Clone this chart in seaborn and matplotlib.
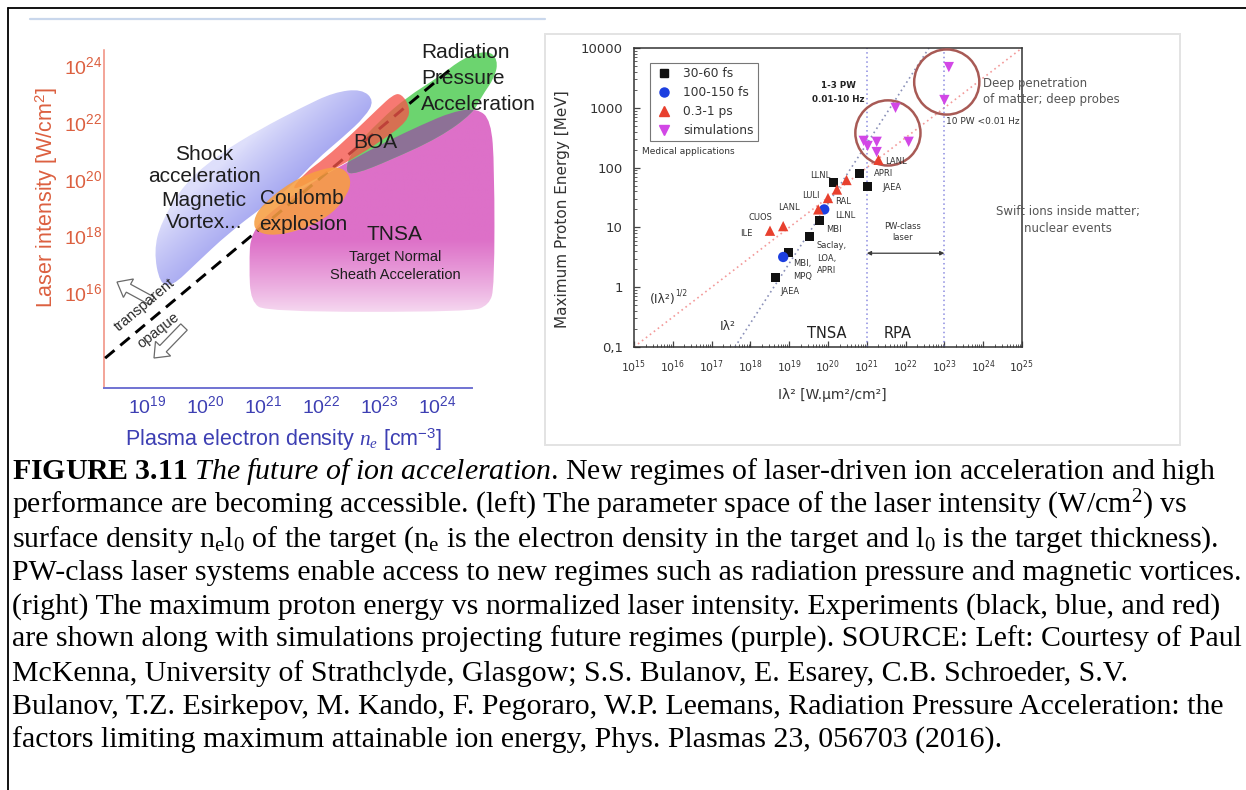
import numpy as np
import matplotlib
matplotlib.use("Agg")
import matplotlib.pyplot as plt
import seaborn as sns
from matplotlib.path import Path
from matplotlib.patches import PathPatch, FancyArrow, Rectangle
from matplotlib.lines import Line2D
from matplotlib.transforms import IdentityTransform
from matplotlib.ticker import FixedLocator, NullLocator, LogLocator, NullFormatter

# ---------------- left panel: regimes in (n_e, I) space, outlines as log10 values ----------------
shock_log_ne = [19.22, 19.12, 19.24, 19.65, 20.27, 20.93, 21.68, 22.22, 22.70, 22.92,
                22.76, 22.39, 21.91, 21.49, 21.00, 20.40, 19.85, 19.43]
shock_log_I = [16.31, 17.45, 18.45, 19.85, 20.90, 21.72, 22.52, 23.04, 23.16, 22.75,
               22.18, 21.48, 20.65, 19.72, 19.01, 18.07, 17.02, 16.20]

tnsa_log_ne = [20.79, 21.31, 21.91, 22.52, 23.12, 23.73, 24.27, 24.69, 24.93, 24.99,
               24.99, 24.90, 24.57, 21.06, 20.79, 20.76]
tnsa_log_I = [18.19, 19.13, 19.95, 20.65, 21.30, 21.89, 22.36, 22.48, 22.06, 20.42,
              16.20, 15.55, 15.31, 15.31, 15.67, 16.90]

rpa_log_ne = [22.41, 22.53, 23.02, 23.48, 24.03, 24.45, 24.88, 25.05, 25.00, 24.76,
              24.62, 24.05, 23.19, 22.59]
rpa_log_I = [20.23, 21.00, 22.06, 22.87, 23.58, 24.25, 24.53, 24.18, 23.58, 22.87,
             22.31, 21.46, 20.65, 20.16]

boa_log_ne = [23.38, 23.53, 23.50, 23.02, 22.55, 22.03, 21.45, 21.70, 22.07, 22.52, 23.00, 23.24]
boa_log_I = [23.00, 22.55, 22.02, 21.30, 20.70, 20.12, 19.50, 20.17, 20.72, 21.55, 22.50, 22.95]

coulomb_log_ne = [20.83, 20.98, 21.47, 22.03, 22.38, 22.53, 22.45, 22.21, 21.76, 21.21, 20.88]
coulomb_log_I = [18.54, 19.07, 19.88, 20.37, 20.41, 19.95, 19.42, 18.79, 18.26, 17.98, 18.12]

# transparent / opaque boundary
boundary_ne = [1.9e18, 1.9e24]
boundary_I = [4.8e13, 8.5e23]

left_xticks = [1e19, 1e20, 1e21, 1e22, 1e23, 1e24]
left_xticklabels = [r"$\mathdefault{10^{19}}$", r"$\mathdefault{10^{20}}$", r"$\mathdefault{10^{21}}$",
                    r"$\mathdefault{10^{22}}$", r"$\mathdefault{10^{23}}$", r"$\mathdefault{10^{24}}$"]
left_yticks = [1e16, 1e18, 1e20, 1e22, 1e24]
left_yticklabels = [r"$\mathdefault{10^{16}}$", r"$\mathdefault{10^{18}}$", r"$\mathdefault{10^{20}}$",
                    r"$\mathdefault{10^{22}}$", r"$\mathdefault{10^{24}}$"]

# ---------------- right panel: max proton energy vs I*lambda^2 ----------------
fs30_x = [4.4e18, 9.5e18, 3.3e19, 6.0e19, 1.4e20, 6.5e20, 1.05e21]
fs30_y = [1.45, 3.8, 7.0, 13.0, 57.0, 80.0, 48.0]
fs100_x = [7.0e18, 8.0e19]
fs100_y = [3.2, 20.0]
ps_x = [3.2e18, 7.0e18, 5.6e19, 1.0e20, 1.7e20, 3.0e20, 2.0e21]
ps_y = [8.8, 10.5, 20.0, 31.0, 43.0, 62.0, 135.0]
sim_x = [8.3e20, 1.05e21, 1.8e21, 1.8e21, 1.2e22, 5.5e21, 1.0e23, 1.3e23]
sim_y = [280.0, 230.0, 270.0, 182.0, 270.0, 1000.0, 1350.0, 4800.0]
ring_x = [3.5e21, 1.15e23]
ring_y = [380.0, 2700.0]

scaling_sqrt_x = [1e15, 1e25]
scaling_sqrt_y = [0.1, 1e4]
scaling_lin_x = [4e17, 4e22]
scaling_lin_y = [0.1, 1e4]
pw_bounds = [1e21, 1e23]
pw_arrow_y = 3.7

right_xticks = [10.0 ** k for k in range(15, 26)]
right_xticklabels = [r"$\mathdefault{10^{%d}}$" % k for k in range(15, 26)]
right_yticks = [0.1, 1, 10, 100, 1000, 10000]
right_yticklabels = ["0,1", "1", "10", "100", "1000", "10000"]

# ---------------- figure setup ----------------
W, H, DPI = 1246, 790, 100
sns.set_theme(style="white")
plt.rcParams["font.family"] = ["Liberation Sans", "DejaVu Sans"]
plt.rcParams.update({
    "mathtext.fontset": "custom",
    "mathtext.rm": "Liberation Serif",
    "mathtext.it": "Liberation Serif:italic",
    "mathtext.bf": "Liberation Serif:bold",
    "mathtext.sf": "Liberation Sans",
})
fig = plt.figure(figsize=(W / DPI, H / DPI), dpi=DPI)
fig.patch.set_facecolor("white")


def fxy(px, py):
    return px / W, 1 - py / H


def label(px, py, s, **kw):
    x, y = fxy(px, py)
    return fig.text(x, y, s, **kw)


def smooth_region(log_x, log_y, **kw):
    """Closed quadratic B-spline through the outline, built in log space."""
    p = np.column_stack([log_x, log_y]).astype(float)
    mids = (p + np.roll(p, -1, axis=0)) / 2
    verts = [mids[-1]]
    codes = [Path.MOVETO]
    for i in range(len(p)):
        verts += [p[i], mids[i]]
        codes += [Path.CURVE3, Path.CURVE3]
    verts.append(mids[-1])
    codes.append(Path.CLOSEPOLY)
    verts = 10.0 ** np.array(verts)
    return PathPatch(Path(verts, codes), **kw)


def gradient_in(ax, patch, rgba, zorder):
    im = ax.imshow(rgba, extent=[0, 1, 0, 1], transform=ax.transAxes, origin="lower",
                   aspect="auto", interpolation="bilinear", zorder=zorder)
    im.set_clip_path(patch)
    return im


# frame lines of the page
fig.add_artist(Line2D([8 / W, 1], [1 - 8 / H, 1 - 8 / H], color="black", lw=1.3))
fig.add_artist(Line2D([8 / W, 8 / W], [0, 1 - 8 / H], color="black", lw=1.3))
fig.add_artist(Line2D([30 / W, 545 / W], [1 - 19 / H, 1 - 19 / H], color="#c9d7ec", lw=1.6))
fig.add_artist(Rectangle(fxy(545, 445), 635 / W, 411 / H, fill=False, ec="#e3e3e3", lw=1.4,
                         transform=fig.transFigure))

# ================= left panel =================
AXW, AXH = 398, 340
ax1 = fig.add_axes([104 / W, 1 - 388 / H, AXW / W, AXH / H])
ax1.set_xscale("log")
ax1.set_yscale("log")
ax1.set_xlim(10 ** 18.26, 10 ** 25.12)
ax1.set_ylim(10 ** 12.63, 10 ** 24.6)
ax1.set_autoscale_on(False)
ax1.set_facecolor("none")

U, V = np.meshgrid(np.linspace(0, 1, 300), np.linspace(0, 1, 300))
X, Y = U * AXW, V * AXH

# shock / magnetic vortex region: pale towards upper-left, deeper towards the boundary
shock = smooth_region(shock_log_ne, shock_log_I, fc="none", ec="none", zorder=1)
ax1.add_patch(shock)
s = (X - 161) * 0.674 - (Y - 188) * 0.738
t = np.clip((s + 55) / 100, 0, 1)[..., None] ** 0.85
light, deep = np.array([222, 223, 251]) / 255, np.array([140, 142, 236]) / 255
rgba = np.concatenate([light + t * (deep - light), np.ones_like(t)], axis=2)
gradient_in(ax1, shock, rgba, 1)

# TNSA region fading out at low intensity
tnsa = smooth_region(tnsa_log_ne, tnsa_log_I, fc="none", ec="none", zorder=2)
ax1.add_patch(tnsa)
t = np.clip((Y - 58) / 90, 0, 1)[..., None] ** 0.8
mag = np.array([221, 112, 200]) / 255
rgba = np.concatenate([1 - t * (1 - mag), np.ones_like(t)], axis=2)
gradient_in(ax1, tnsa, rgba, 2)

# radiation pressure region and its overlap with TNSA
ax1.add_patch(smooth_region(rpa_log_ne, rpa_log_I, fc="#6cd46f", ec="none", zorder=3))
overlap = smooth_region(rpa_log_ne, rpa_log_I, fc="#8d7196", ec="none", zorder=3.5)
ax1.add_patch(overlap)
overlap.set_clip_path(tnsa)

sns.lineplot(x=boundary_ne, y=boundary_I, ax=ax1, color="black", lw=2.1,
             linestyle=(0, (4.2, 2.6)), zorder=4)

ax1.add_patch(smooth_region(boa_log_ne, boa_log_I, fc=(0.96, 0.33, 0.29), ec="none",
                            alpha=0.78, zorder=5))
ax1.add_patch(smooth_region(coulomb_log_ne, coulomb_log_I, fc=(0.97, 0.62, 0.26), ec="none",
                            alpha=0.88, zorder=6))

for side in ("top", "right"):
    ax1.spines[side].set_visible(False)
ax1.spines["left"].set_color("#f08c7c")
ax1.spines["left"].set_linewidth(1.1)
ax1.spines["left"].set_bounds(10 ** 12.63, 10 ** 24.53)
ax1.spines["bottom"].set_color("#7072d2")
ax1.spines["bottom"].set_linewidth(1.4)
ax1.spines["bottom"].set_bounds(10 ** 18.26, 10 ** 24.6)
ax1.xaxis.set_major_locator(FixedLocator(left_xticks))
ax1.xaxis.set_minor_locator(NullLocator())
ax1.set_xticklabels(left_xticklabels)
ax1.yaxis.set_major_locator(FixedLocator(left_yticks))
ax1.yaxis.set_minor_locator(NullLocator())
ax1.set_yticklabels(left_yticklabels)
ax1.tick_params(axis="x", length=0, pad=5, labelsize=14, labelcolor="#3d3fb3")
ax1.tick_params(axis="y", length=0, pad=1, labelsize=14, labelcolor="#dc6040")
ax1.grid(False)

label(47, 197, r"Laser intensity [W/cm$^{\mathdefault{2}}$]", rotation=90, ha="center",
      va="center", fontsize=15.5, color="#dc6040")
label(284, 440, r"Plasma electron density $n_e$ [cm$^{\mathdefault{-3}}$]", ha="center",
      va="center", fontsize=15.5, color="#3d3fb3")

txt = dict(fontsize=15, color="#1e1e1e", va="center", zorder=10)
for py, line in zip([53, 79, 104], ["Radiation", "Pressure", "Acceleration"]):
    label(421, py, line, ha="left", **txt)
for py, line in zip([155, 177, 200, 222], ["Shock", "acceleration", "Magnetic", "Vortex..."]):
    label(204, py, line, ha="center", **txt)
label(302, 198, "Coulomb", ha="center", **txt)
label(303, 224, "explosion", ha="center", **txt)
label(375, 142, "BOA", ha="center", **txt)
label(394, 235, "TNSA", ha="center", **txt)
label(395, 257, "Target Normal", ha="center", va="center", fontsize=10.5, color="#1e1e1e")
label(395, 275, "Sheath Acceleration", ha="center", va="center", fontsize=10.5, color="#1e1e1e")
label(145, 305, "transparent", rotation=40, ha="center", va="center", fontsize=10.5,
      color="#2a2a2a", rotation_mode="anchor")
label(158, 330, "opaque", rotation=38, ha="center", va="center", fontsize=10.5,
      color="#2a2a2a", rotation_mode="anchor")

arrow_kw = dict(width=9, head_width=21, head_length=13, fc="white", ec="#6a6a6a", lw=0.9,
                length_includes_head=True, transform=IdentityTransform())
fig.add_artist(FancyArrow(152, H - 301, -35, 19, **arrow_kw))
fig.add_artist(FancyArrow(184, H - 327, -30, -31, **arrow_kw))

# ================= right panel =================
ax2 = fig.add_axes([634 / W, 1 - 347 / H, 388 / W, 299 / H])
ax2.set_xscale("log")
ax2.set_yscale("log")
ax2.set_xlim(1e15, 1e25)
ax2.set_ylim(0.1, 1e4)
ax2.set_facecolor("none")

sns.lineplot(x=scaling_sqrt_x, y=scaling_sqrt_y, ax=ax2, color="#f39a9a", lw=1.2,
             linestyle=(0, (1, 2)), zorder=2)
sns.lineplot(x=scaling_lin_x, y=scaling_lin_y, ax=ax2, color="#8a90b8", lw=1.2,
             linestyle=(0, (1, 2)), zorder=2)
for xb in pw_bounds:
    ax2.axvline(xb, color="#8c8ce0", lw=1.1, linestyle=(0, (1, 2)), zorder=2)
ax2.annotate("", xy=(pw_bounds[1], pw_arrow_y), xytext=(pw_bounds[0], pw_arrow_y),
             arrowprops=dict(arrowstyle="<|-|>", color="#3a3a3a", lw=0.9,
                             mutation_scale=6, shrinkA=0, shrinkB=0))

ax2.scatter(ring_x, ring_y, s=2200, facecolors="none", edgecolors="#a85a55", linewidths=1.8,
            zorder=3)

sns.scatterplot(x=fs30_x, y=fs30_y, ax=ax2, marker="s", color="#111111", s=40,
                edgecolor="none", label="30-60 fs", zorder=5, legend=False)
sns.scatterplot(x=fs100_x, y=fs100_y, ax=ax2, marker="o", color="#1c3fe0", s=55,
                edgecolor="none", label="100-150 fs", zorder=5, legend=False)
sns.scatterplot(x=ps_x, y=ps_y, ax=ax2, marker="^", color="#e8402e", s=55,
                edgecolor="none", label="0.3-1 ps", zorder=5, legend=False)
sns.scatterplot(x=sim_x, y=sim_y, ax=ax2, marker="v", color="#d247e6", s=55,
                edgecolor="none", label="simulations", zorder=5, legend=False)

handles = [Line2D([], [], ls="none", marker="s", color="#111111", ms=6),
           Line2D([], [], ls="none", marker="o", color="#1c3fe0", ms=6.5),
           Line2D([], [], ls="none", marker="^", color="#e8402e", ms=7),
           Line2D([], [], ls="none", marker="v", color="#d247e6", ms=7)]
leg = ax2.legend(handles, ["30-60 fs", "100-150 fs", "0.3-1 ps", "simulations"],
                 loc="upper left", bbox_to_anchor=((650 - 634) / 388, 1 - (63 - 48) / 299),
                 borderaxespad=0, frameon=True, fancybox=False, edgecolor="#555555",
                 prop={"family": "DejaVu Sans", "size": 8.8},
                 handlelength=1.6, handletextpad=0.75, labelspacing=0.48, borderpad=0.35)
leg.get_frame().set_linewidth(0.8)
for t_ in leg.get_texts():
    t_.set_color("#333333")

for side in ax2.spines.values():
    side.set_color("#333333")
    side.set_linewidth(1.1)
ax2.xaxis.set_major_locator(FixedLocator(right_xticks))
ax2.set_xticklabels(right_xticklabels)
ax2.xaxis.set_minor_locator(LogLocator(base=10, subs=np.arange(2, 10), numticks=100))
ax2.xaxis.set_minor_formatter(NullFormatter())
ax2.yaxis.set_major_locator(FixedLocator(right_yticks))
ax2.set_yticklabels(right_yticklabels)
ax2.yaxis.set_minor_locator(LogLocator(base=10, subs=np.arange(2, 10), numticks=100))
ax2.yaxis.set_minor_formatter(NullFormatter())
ax2.tick_params(which="both", direction="in", bottom=True, left=True, top=False, right=False,
                color="#444444")
ax2.tick_params(which="major", length=4, width=0.9)
ax2.tick_params(which="minor", length=2, width=0.6)
ax2.tick_params(axis="x", labelsize=7.8, pad=8, labelcolor="#333333")
ax2.tick_params(axis="y", labelsize=9.5, pad=8, labelcolor="#333333")
for lab in ax2.get_xticklabels() + ax2.get_yticklabels():
    lab.set_family("DejaVu Sans")
ax2.grid(False)

dv = dict(family="DejaVu Sans")
label(563, 209, "Maximum Proton Energy [MeV]", rotation=90, ha="center", va="center",
      fontsize=11, color="#333333", **dv)
label(832, 395, "Iλ² [W.µm²/cm²]", ha="center", va="center", fontsize=10, color="#333333", **dv)

label(838, 85, "1-3 PW", ha="center", va="center", fontsize=6.3, weight="bold", color="#222222", **dv)
label(838, 99, "0.01-10 Hz", ha="center", va="center", fontsize=6.3, weight="bold",
      color="#222222", **dv)
label(642, 151, "Medical applications", ha="left", va="center", fontsize=6.5, color="#333333", **dv)
label(946, 121, "10 PW <0.01 Hz", ha="left", va="center", fontsize=6.5, color="#333333", **dv)
label(983, 91, "Deep penetration\nof matter; deep probes", ha="left", va="center", fontsize=8.5,
      linespacing=1.3, color="#555555", **dv)
label(1068, 220, "Swift ions inside matter;\nnuclear events", ha="center", va="center",
      fontsize=8.5, linespacing=1.35, color="#555555", **dv)
label(827, 333, "TNSA", ha="center", va="center", fontsize=10.5, color="#222222", **dv)
label(898, 333, "RPA", ha="center", va="center", fontsize=10.5, color="#222222", **dv)
label(903, 232, "PW-class\nlaser", ha="center", va="center", fontsize=6, linespacing=1.3,
      color="#333333", **dv)
label(728, 326, "Iλ²", ha="center", va="center", fontsize=9, color="#333333", **dv)
label(663, 300, "(Iλ²)", ha="center", va="center", fontsize=9, color="#333333", **dv)
label(681, 293, "1/2", ha="center", va="center", fontsize=5.5, color="#333333", **dv)

point_labels = [("LANL", 885, 161, "left"), ("APRI", 874, 173, "left"), ("JAEA", 882, 188, "left"),
                ("LLNL", 820, 175, "center"), ("LULI", 811, 195, "center"),
                ("RAL", 835, 201, "left"), ("LLNL", 835, 215, "left"), ("MBI", 826, 229, "left"),
                ("Saclay,\nLOA,\nAPRI", 817, 258, "left"), ("MBI,\nMPQ", 793, 270, "left"),
                ("JAEA", 780, 292, "left"), ("LANL", 789, 208, "center"),
                ("CUOS", 760, 217, "center"), ("ILE", 746, 234, "center")]
for text, px, py, ha in point_labels:
    label(px, py, text, ha=ha, va="center", fontsize=6, linespacing=1.55, color="#333333", **dv)

# ================= caption =================
caption = [
    r"$\mathbf{FIGURE\ 3.11}$ $\mathit{The\ future\ of\ ion\ acceleration}$. New regimes of laser-driven ion acceleration and high",
    r"performance are becoming accessible. (left) The parameter space of the laser intensity (W/cm$^{2}$) vs",
    r"surface density n$_{\mathrm{e}}$l$_{0}$ of the target (n$_{\mathrm{e}}$ is the electron density in the target and l$_{0}$ is the target thickness).",
    "PW-class laser systems enable access to new regimes such as radiation pressure and magnetic vortices.",
    "(right) The maximum proton energy vs normalized laser intensity. Experiments (black, blue, and red)",
    "are shown along with simulations projecting future regimes (purple). SOURCE: Left: Courtesy of Paul",
    "McKenna, University of Strathclyde, Glasgow; S.S. Bulanov, E. Esarey, C.B. Schroeder, S.V.",
    "Bulanov, T.Z. Esirkepov, M. Kando, F. Pegoraro, W.P. Leemans, Radiation Pressure Acceleration: the",
    "factors limiting maximum attainable ion energy, Phys. Plasmas 23, 056703 (2016).",
]
for i, line in enumerate(caption):
    label(12, 479 + 33.6 * i, line, ha="left", va="baseline", fontsize=21.5,
          family="Liberation Serif", color="black")

fig.savefig("out.png", dpi=DPI, facecolor="white")
